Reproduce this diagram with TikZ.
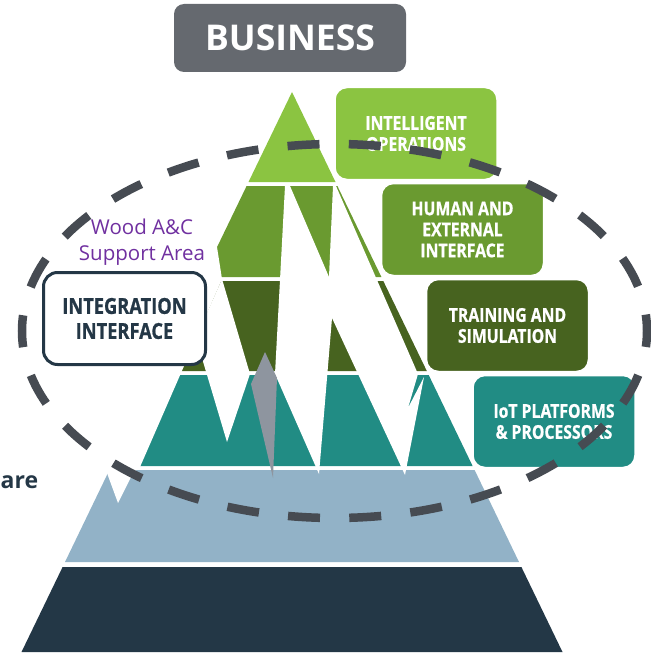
\documentclass[tikz,border=0pt]{standalone}
\usepackage{fontspec}
\setmainfont{Open Sans}
\newfontfamily\condfont[FakeStretch=0.83,FakeBold=0.8]{Open Sans}
\definecolor{pyrA}{HTML}{8BC441}
\definecolor{pyrB}{HTML}{6A9A30}
\definecolor{pyrC}{HTML}{47631F}
\definecolor{pyrD}{HTML}{218C84}
\definecolor{pyrE}{HTML}{92B2C7}
\definecolor{pyrF}{HTML}{233746}
\definecolor{bizgray}{HTML}{65696F}
\definecolor{needle}{HTML}{8E959F}
\definecolor{dashcol}{HTML}{464B52}
\definecolor{woodpurple}{HTML}{7030A0}
\definecolor{navytext}{HTML}{243746}
\tikzset{
  catbox/.style={rounded corners=12pt, draw=white, line width=1.5pt, text=white,
    align=center, font=\condfont\bfseries\fontsize{19}{21}\selectfont,
    minimum width=162pt, minimum height=92pt, inner sep=0pt},
  bolt/.style={fill=white},
}
\begin{document}
\begin{tikzpicture}[x=1pt,y=-1pt]
\useasboundingbox (0,0) rectangle (650,658);
% pyramid layers
\fill[pyrA] (292,92) -- (335.5,182) -- (248.5,182) -- cycle;
\fill[pyrB] (246.6,186) -- (337.4,186) -- (381.4,277) -- (202.6,277) -- cycle;
\fill[pyrC] (200.7,281) -- (383.3,281) -- (426.8,371) -- (157.2,371) -- cycle;
\fill[pyrD] (155.3,375) -- (428.7,375) -- (472.6,466) -- (111.4,466) -- cycle;
\fill[pyrE] (109.4,470) -- (474.6,470) -- (519,562) -- (65,562) -- cycle;
\fill[pyrF] (62.6,567) -- (521.4,567) -- (562.5,652) -- (21.5,652) -- cycle;
% white lightning cut
\fill[bolt] (205,240) -- (217,247) -- (222,279) -- (140,467) -- (133,473) -- (118,503)
  -- (107,473) -- (95,473) -- cycle;
\fill[bolt] (222,279) -- (250,374) -- (227,442) -- (196,338) -- cycle;
\fill[bolt] (285,186) -- (290,186) -- (329,277) -- (333,186) -- (336,186) -- (418,374)
  -- (408,408) -- (424,377) -- (405,475) -- (332,318) -- (319,474) -- (275,374) -- cycle;
\fill[needle] (265,352) -- (277,378) -- (273,478) -- (251,384) -- cycle;
% boxes
\node[catbox, fill=pyrA] (intel) at (416,133.5) {INTELLIGENT\\OPERATIONS};
\node[catbox, fill=pyrB] (human) at (462.5,229.5) {HUMAN AND\\EXTERNAL\\INTERFACE};
\node[catbox, fill=pyrC] (train) at (507.5,325.5) {TRAINING AND\\SIMULATION};
\node[catbox, fill=pyrD] (iot) at (554,421.5) {IoT PLATFORMS\\\& PROCESSORS};
\node[draw=navytext, line width=3pt, fill=white, rounded corners=14pt,
  minimum width=162pt, minimum height=92pt, inner sep=0pt, align=center, text=navytext,
  font=\condfont\bfseries\fontsize{22}{25}\selectfont] (integ) at (124.5,318.5)
  {INTEGRATION\\INTERFACE};
\node[fill=bizgray, rounded corners=10pt, minimum width=232pt, minimum height=68pt,
  inner sep=0pt, text=white, font=\bfseries\fontsize{35.5}{38}\selectfont] (biz) at (290,38) {BUSINESS};
\node[text=woodpurple, align=center, inner sep=0pt, font=\fontsize{20.5}{26}\selectfont]
  (wood) at (142,242) {Wood A\&C\\Support Area};
\node[anchor=base west, inner sep=0pt, text=navytext, font=\bfseries\fontsize{23}{28}\selectfont]
  (are) at (0.5,488) {are};
% dashed support area
\draw[dashcol, line width=8.5pt, dash pattern=on 32pt off 29.3pt, dash phase=16pt]
  (334.5,331) ellipse [x radius=312.5, y radius=187];
\end{tikzpicture}
\end{document}
